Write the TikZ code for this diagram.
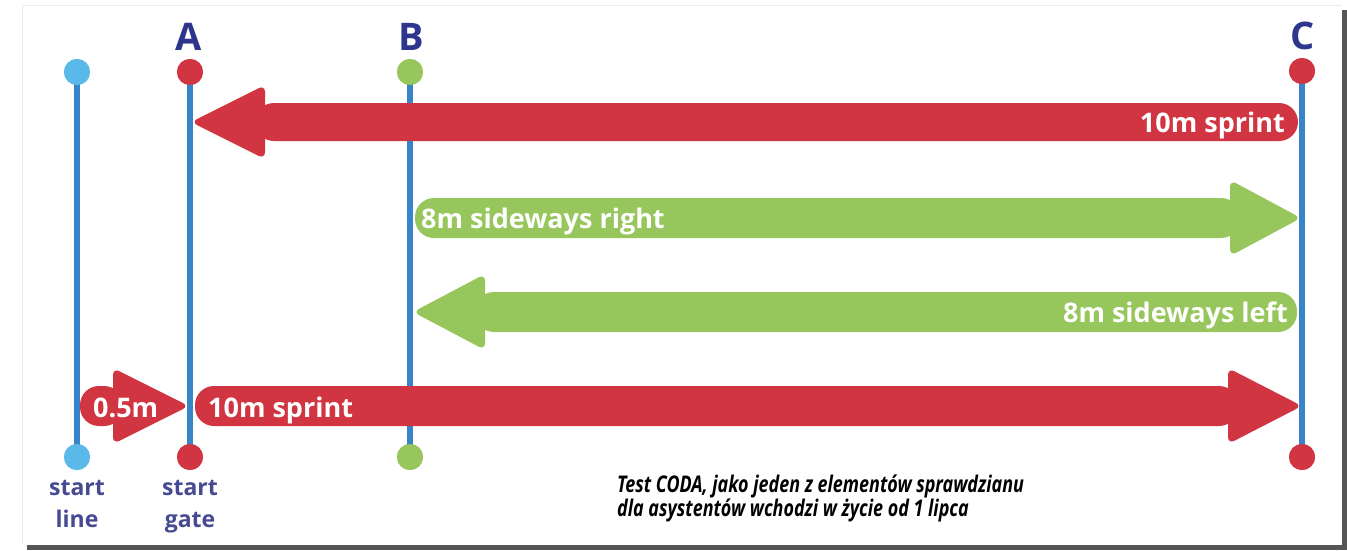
\documentclass[tikz,border=0pt]{standalone}
\usepackage{fontspec}
\newfontfamily\osans{Open Sans}
\newfontfamily\capfont[FakeStretch=0.78]{Open Sans}
\definecolor{cred}{RGB}{209,53,65}
\definecolor{cgreen}{RGB}{151,198,93}
\definecolor{cline}{RGB}{55,132,200}
\definecolor{cdotblue}{RGB}{90,185,233}
\definecolor{cnavy}{RGB}{45,54,140}
\definecolor{clabel}{RGB}{69,74,146}
\definecolor{cshadow}{RGB}{85,85,85}
\newcommand\arrowR[7]{%
  \fill[#7, rounded corners=19pt] (#1,{#3-#4}) rectangle ({#2-#5+10},{#3+#4});
  \fill[#7, rounded corners=7pt] ({#2-#5},#3) -- ({#2-#5},{#3-#6}) -- ({#2+4},#3) -- ({#2-#5},{#3+#6}) -- cycle;}
\newcommand\arrowL[7]{%
  \fill[#7, rounded corners=19pt] ({#2+#5-10},{#3-#4}) rectangle (#1,{#3+#4});
  \fill[#7, rounded corners=7pt] ({#2+#5},#3) -- ({#2+#5},{#3-#6}) -- ({#2-4},#3) -- ({#2+#5},{#3+#6}) -- cycle;}
\tikzset{
  dotnode/.style={circle, inner sep=0pt, minimum size=26pt},
  vline/.style={line width=5.5pt, cline},
  letter/.style={font=\osans\bfseries\fontsize{38}{40}\selectfont, text=cnavy, inner sep=0pt, anchor=base},
  alabel/.style={font=\osans\bfseries\fontsize{27}{30}\selectfont, text=white, inner sep=0pt},
  blabel/.style={font=\osans\bfseries\fontsize{23}{32}\selectfont, text=clabel, inner sep=0pt, align=center, anchor=north},
}
\begin{document}
\begin{tikzpicture}[x=1pt,y=-1pt]
\useasboundingbox (0,0) rectangle (1347,550);
% panel
\fill[cshadow] (27,10) rectangle (1347,550);
\fill[white] (22,5) rectangle (1342,545);
\draw[black!8, line width=1pt] (22,545) -- (22,5) -- (1342,5);
% dots
\node[dotnode, fill=cdotblue] (sT) at (77,72) {};
\node[dotnode, fill=cdotblue] (sB) at (77,457) {};
\node[dotnode, fill=cred] (aT) at (190,72) {};
\node[dotnode, fill=cred] (aB) at (190,457) {};
\node[dotnode, fill=cgreen] (bT) at (410,72) {};
\node[dotnode, fill=cgreen] (bB) at (410,457) {};
\node[dotnode, fill=cred] (cT) at (1302,71) {};
\node[dotnode, fill=cred] (cB) at (1302,457) {};
% vertical lines
\draw[vline] (sT.center) -- (sB.center);
\draw[vline] (aT.center) -- (aB.center);
\draw[vline] (bT.center) -- (bB.center);
\draw[vline] (cT.center) -- (cB.center);
% redraw dots on top
\foreach \n/\c in {sT/cdotblue,sB/cdotblue,aT/cred,aB/cred,bT/cgreen,bB/cgreen,cT/cred,cB/cred}
  \fill[\c] (\n.center) circle (13pt);
% letters
\node[letter] (lA) at (189,50) {A};
\node[letter] (lB) at (411,50) {B};
\node[letter] (lC) at (1303,49) {C};
% arrows
\arrowL{1298}{195}{122}{19}{70}{37}{cred}
\arrowR{415}{1297}{218}{20}{67}{38}{cgreen}
\arrowL{1297}{417}{312}{20}{68}{38}{cgreen}
\arrowR{195}{1298}{406}{20}{70}{38}{cred}
\arrowR{80}{185}{406}{20}{72}{38}{cred}
% arrow labels
\node[alabel, anchor=base east] (t1) at (1285,132) {10m sprint};
\node[alabel, anchor=base west] (t2) at (421,228) {8m sideways right};
\node[alabel, anchor=base east] (t3) at (1288,322) {8m sideways left};
\node[alabel, anchor=base west] (t4) at (208,417) {10m sprint};
\node[alabel, anchor=base west] (t5) at (93,417) {0.5m};
% bottom labels
\node[blabel] (sl) at (77,480) {start\\line};
\node[blabel] (sg) at (190,480) {start\\gate};
% caption
\node[font=\capfont\bfseries\itshape\fontsize{23}{24}\selectfont, anchor=north west, inner sep=0pt, align=left] (cap) at (617,475)
  {Test CODA, jako jeden z elementów sprawdzianu\\dla asystentów wchodzi w życie od 1 lipca};
\end{tikzpicture}
\end{document}
